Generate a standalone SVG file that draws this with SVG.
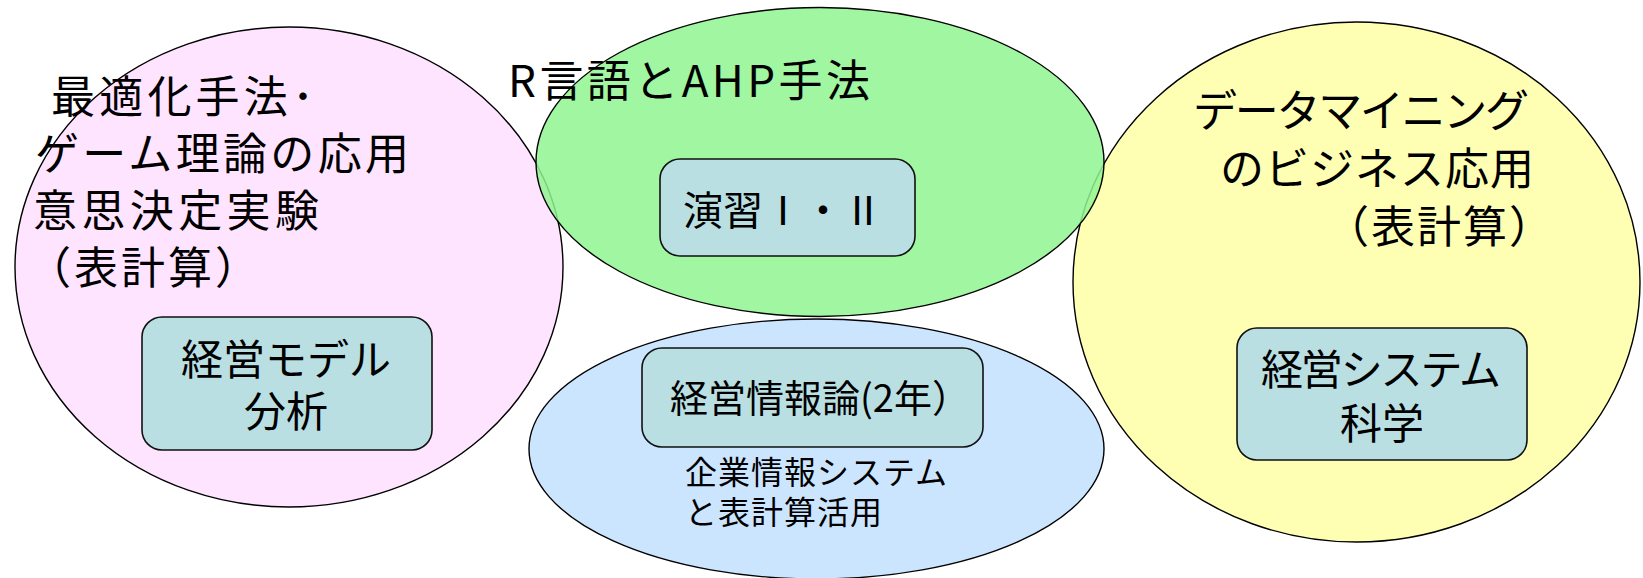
<svg xmlns="http://www.w3.org/2000/svg" width="1643" height="578" viewBox="0 0 1643 578">
<style>
text { font-family: "Noto Sans CJK JP", "Noto Sans", sans-serif; fill: #000; }
.ell { stroke: #000; stroke-width: 1.4; }
.box { fill: #B9DFE3; stroke: #111; stroke-width: 1.6; }
.t44 { font-size: 44px; }
.t42 { font-size: 42px; }
.mid { text-anchor: middle; }
</style>
<rect width="1643" height="578" fill="#FFFFFF"/>

<g id="area-optimization">
<ellipse class="ell" cx="289" cy="267" rx="274" ry="240" fill="#FFE4FF"/>
<text class="t44"><tspan x="51" y="113" textLength="263" lengthAdjust="spacing">最適化手法･</tspan><tspan x="35" y="170" textLength="374" lengthAdjust="spacing">ゲーム理論の応用</tspan><tspan x="33" y="227" textLength="286" lengthAdjust="spacing">意思決定実験</tspan><tspan x="27" y="284" textLength="232" lengthAdjust="spacing">（表計算）</tspan></text>
</g>
<g id="node-keiei-model">
<rect class="box" x="142" y="317" width="290" height="133" rx="20"/>
<text class="t42 mid"><tspan x="286" y="375">経営モデル</tspan><tspan x="286" y="427">分析</tspan></text>
</g>

<g id="area-datamining">
<ellipse class="ell" cx="1356.5" cy="282" rx="283.5" ry="260" fill="#FFFFB4"/>
<text class="t44"><tspan x="1193" y="127" textLength="336" lengthAdjust="spacing">データマイニング</tspan><tspan x="1220" y="185" textLength="314" lengthAdjust="spacing">のビジネス応用</tspan><tspan x="1325" y="243" textLength="228" lengthAdjust="spacing">（表計算）</tspan></text>
</g>
<g id="node-keiei-system">
<rect class="box" x="1237" y="328" width="290" height="132" rx="20"/>
<text class="t42 mid"><tspan x="1381" y="385" textLength="240" lengthAdjust="spacing">経営システム</tspan><tspan x="1382" y="439">科学</tspan></text>
</g>

<g id="area-enterprise">
<ellipse class="ell" cx="816.5" cy="449" rx="287.5" ry="130" fill="#CCE5FF"/>
<text font-size="32" letter-spacing="1"><tspan x="685" y="484">企業情報システム</tspan><tspan x="685" y="524">と表計算活用</tspan></text>
</g>
<g id="node-keiei-joho">
<rect class="box" x="642" y="348" width="341" height="99" rx="20"/>
<text x="670" y="412" font-size="38">経営情報論(2年）</text>
</g>

<g id="area-r-ahp">
<ellipse class="ell" cx="820" cy="162" rx="284" ry="154.5" fill="rgb(144,244,144)" fill-opacity="0.85"/>
<text class="t44" x="508" y="97" textLength="362" lengthAdjust="spacing">R言語とAHP手法</text>
</g>
<g id="node-enshu">
<rect class="box" x="660" y="159" width="255" height="97" rx="20"/>
<text class="mid" x="783" y="225" font-size="40">演習Ⅰ・Ⅱ</text>
</g>

<g id="connectors"></g>
</svg>
